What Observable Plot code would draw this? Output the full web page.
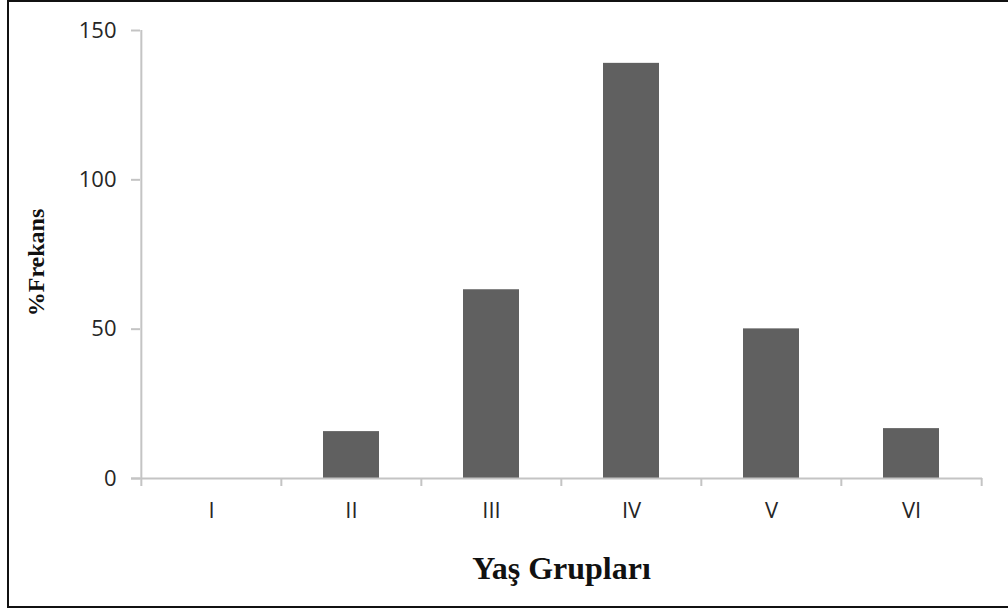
<!DOCTYPE html>
<html>
<head>
<meta charset="utf-8">
<script src="https://cdn.jsdelivr.net/npm/d3@7"></script>
<script src="https://cdn.jsdelivr.net/npm/@observablehq/plot@0.6"></script>
<style>
  html, body { margin: 0; padding: 0; background: #fff; width: 1008px; height: 610px; overflow: hidden; }
  #wrap { position: relative; width: 1008px; height: 610px; }
  #border { position: absolute; left: 7px; top: 0px; width: 1010px; height: 604px; border: 2.5px solid #111; box-sizing: content-box; pointer-events: none; }
  #chart { position: absolute; left: 0; top: 0; }
</style>
</head>
<body>
<div id="wrap"><div id="chart"></div><div id="border"></div></div>
<script>
const categories = ["I", "II", "III", "IV", "V", "VI"];
const values = [0, 15.7, 63.2, 139, 50.1, 16.7];
const yTicks = [0, 50, 100, 150];
const xTitle = "Yaş Grupları";
const yTitle = "%Frekans";

const W = 1008, H = 610;
const mL = 140, mR = 26, mT = 30, mB = 132;
const step = (W - mL - mR) / categories.length;

const data = categories.map((c, i) => ({cat: c, val: values[i]}));
const axisColor = "#c4c4c4";
const labelFont = "'Open Sans', 'Liberation Sans', sans-serif";
const titleFont = "'Liberation Serif', 'DejaVu Serif', serif";

const chart = Plot.plot({
  width: W,
  height: H,
  marginLeft: mL,
  marginRight: mR,
  marginTop: mT,
  marginBottom: mB,
  style: {background: "transparent", overflow: "visible"},
  x: {domain: categories, paddingInner: 0.6, paddingOuter: 0.3, axis: null},
  y: {domain: [0, 150], axis: null},
  marks: [
    Plot.barY(data, {x: "cat", y: "val", fill: "#606060"}),
    // y axis line (left boundary of first band)
    Plot.ruleX([categories[0]], {x: d => d, dx: -step / 2, y1: 150, y2: 0, insetBottom: -8, stroke: axisColor, strokeWidth: 2}),
    // x axis baseline
    Plot.ruleY([0], {stroke: axisColor, strokeWidth: 2, insetLeft: -9}),
    // boundary ticks between categories
    Plot.ruleX(categories.slice(1), {x: d => d, dx: -step / 2, y1: 0, y2: 0, insetBottom: -8, stroke: axisColor, strokeWidth: 2}),
    Plot.ruleX([categories[categories.length - 1]], {x: d => d, dx: step / 2, y1: 0, y2: 0, insetBottom: -8, stroke: axisColor, strokeWidth: 2}),
    Plot.axisY({ticks: yTicks, tickSize: 9, tickPadding: 15, stroke: axisColor, strokeWidth: 2, fontSize: 22, fontFamily: labelFont, fill: "#262626", label: null, tickFormat: d => String(d)}),
    Plot.axisX({tickSize: 0, tickPadding: 24, fontSize: 22, fontFamily: labelFont, fill: "#262626", label: null}),
    Plot.text([xTitle], {text: d => d, frameAnchor: "bottom", textAnchor: "middle", dy: 100, fontSize: 32, fontWeight: "bold", fontFamily: titleFont, fill: "#111"}),
    Plot.text([yTitle], {text: d => d, frameAnchor: "left", textAnchor: "middle", dx: -104, dy: 8, rotate: -90, fontSize: 24, fontWeight: "bold", fontFamily: titleFont, fill: "#111"})
  ]
});
document.getElementById("chart").appendChild(chart);
</script>
</body>
</html>
